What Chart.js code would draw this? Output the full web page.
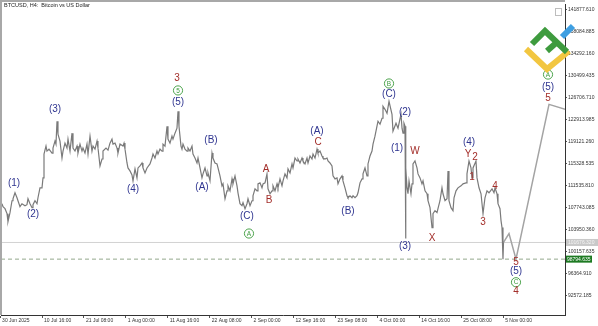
<!DOCTYPE html>
<html>
<head>
<meta charset="utf-8">
<script src="https://cdn.jsdelivr.net/npm/chart.js@4.4.1/dist/chart.umd.min.js"></script>
<style>
  html, body { margin: 0; padding: 0; background: #fff; overflow: hidden; }
  canvas { display: block; }
</style>
</head>
<body>
<canvas id="btc-chart" width="598" height="326"></canvas>
<script>
// BTCUSD H4 closes, [days since 30 Jun 2025 00:00, price]
const h4Closes = [
  [0.48,108378],[0.74,107862],[1.25,107519],[1.76,106660],[2.01,105285],[2.52,106831],[3.03,108893],[3.28,109237],[3.79,110267],[4.30,109408],
  [4.55,108893],[5.06,107862],[5.57,108378],[6.34,108034],[6.84,108206],[7.10,109237],[7.61,108378],[8.12,107690],[8.37,108206],[8.88,108893],
  [9.39,108378],[9.64,109408],[10.15,111127],[10.66,111127],[10.92,112845],[11.17,116968],[11.68,118342],[11.93,117483],[12.44,117827],[13.21,117139],
  [13.46,117998],[13.97,119201],[14.22,118686],[14.48,122637],[14.73,120404],[15.24,119201],[15.75,116280],[16.01,117483],[16.51,118857],[17.02,117998],
  [17.28,119545],[17.79,117483],[18.30,120575],[18.55,117998],[19.06,117483],[19.57,118342],[19.82,117139],[20.33,118686],[20.84,117483],[21.09,117998],
  [21.60,117139],[22.11,118686],[22.37,116968],[22.88,120060],[23.38,117483],[23.64,118342],[24.15,117827],[24.66,119201],[24.91,117998],[25.42,114906],
  [25.93,116109],[26.18,117483],[26.95,117998],[27.46,117655],[27.96,118857],[28.47,119545],[28.73,118686],[29.24,118857],[29.75,117998],[30.00,117139],
  [30.51,118686],[31.27,118342],[31.53,118857],[31.78,117827],[32.29,115421],[32.54,114562],[33.05,114047],[33.56,113360],[33.82,112329],[34.33,114391],
  [34.83,112845],[35.09,114562],[35.60,114906],[36.11,115421],[36.36,114562],[36.87,113703],[37.38,114562],[38.14,115250],[38.65,116280],[38.91,116968],
  [39.41,116280],[39.92,117483],[40.18,116968],[40.69,117827],[41.20,117483],[41.45,118686],[41.96,118342],[42.47,121778],[42.72,119545],[43.23,118857],
  [43.74,120060],[43.99,119545],[44.50,120575],[45.01,121435],[45.27,124355],[45.52,121778],[46.03,118342],[46.28,117827],[46.54,118686],[47.05,117827],
  [47.56,117483],[47.81,117998],[48.32,117483],[48.83,118342],[49.08,116968],[49.59,116280],[50.10,115421],[50.36,116280],[50.87,114562],[51.37,112845],
  [51.63,113532],[52.14,114562],[52.65,113189],[52.90,113703],[53.41,112329],[53.92,117139],[54.17,116280],[54.68,115421],[55.19,115250],[55.45,114562],
  [55.95,113189],[56.46,111470],[56.72,111814],[57.23,109237],[57.74,110611],[57.99,111470],[58.50,110611],[59.01,112673],[59.26,111814],[59.77,113189],
  [60.28,111470],[60.53,110267],[61.04,108378],[61.55,108034],[61.81,108549],[62.32,107519],[62.82,108378],[63.08,109237],[63.59,108034],[64.10,108893],
  [64.35,109752],[64.86,110955],[65.37,110611],[65.62,111814],[66.13,111985],[66.64,111127],[66.90,111814],[67.41,111985],[67.91,113532],[68.17,110955],
  [68.68,110096],[69.19,110611],[69.44,111470],[69.95,110611],[70.46,111814],[70.71,111127],[71.22,112673],[71.73,111470],[71.99,112329],[72.49,113532],
  [73.00,112845],[73.26,114391],[73.77,113703],[74.28,115250],[74.53,114562],[75.04,116280],[75.55,115765],[75.80,116109],[76.31,115421],[76.82,116280],
  [77.07,115765],[77.58,115250],[78.09,116280],[78.35,115421],[78.85,116624],[79.36,116109],[79.62,116968],[80.13,116280],[80.64,117827],[80.89,117139],
  [81.40,117483],[81.91,116624],[82.16,116280],[82.67,116109],[83.18,116280],[83.44,115765],[83.94,115421],[84.45,114906],[84.71,113189],[85.22,112673],
  [85.73,112845],[85.98,111814],[86.49,112673],[87.00,113189],[87.25,112329],[87.76,111127],[88.27,109752],[88.52,109408],[89.03,109752],[89.54,109408],
  [89.80,109752],[90.31,109408],[90.81,109752],[91.07,110267],[91.58,111985],[92.09,112673],[92.34,113532],[92.85,114562],[93.36,113189],[93.61,115250],
  [94.12,116624],[94.63,117483],[94.89,118686],[95.39,120060],[95.90,121778],[96.16,122637],[96.67,122122],[97.18,123153],[97.43,125214],[97.94,124699],
  [98.45,124011],[98.96,126073],[99.72,123840],[99.97,120919],[100.74,122293],[101.25,121435],[102.01,123840],[102.27,121435],[102.52,120575],[102.77,122293],
  [103.03,121778],[103.16,102364],[103.28,114562],[103.54,111127],[103.79,110096],[104.05,112329],[104.55,110096],[104.81,111814],[105.06,115250],[105.57,115765],
  [106.08,114562],[106.34,113532],[106.85,112845],[107.35,111814],[107.61,112329],[108.12,110611],[108.63,110096],[108.88,108893],[109.39,107690],[109.90,104254],
  [110.15,106660],[110.66,107175],[111.17,106831],[111.42,107519],[111.93,108893],[112.44,111127],[112.70,110096],[113.21,108893],[113.72,109237],[113.97,114047],
  [114.22,108893],[114.73,107690],[115.24,107175],[115.50,109408],[116.01,110611],[116.51,111127],[117.28,111470],[117.79,111814],[118.55,111985],[118.80,113532],
  [119.31,115765],[119.82,114562],[120.08,112845],[120.33,114562],[121.09,115765],[121.35,112845],[121.86,111127],[122.37,110096],[122.88,106660],[123.38,109408],
  [123.89,110611],[124.40,110267],[125.17,110955],[125.67,110267],[125.93,111127],[126.44,110096],[126.69,108378],[127.20,107519],[127.46,105457],[127.71,104254],
  [127.96,98795],[128.09,101676]
];

// projected path drawn after the last close
const forecastPath = [[128.09,101676],[129.49,103222],[131.27,98795],[139.67,125558],[147.81,123840]];

const bidPrice = 101676.32;
const lowLevel = 98794.635;

const priceTicks = [92572.185, 96364.910, 100157.635, 103950.360, 107743.085, 111535.810, 115328.535,
                    119121.260, 122913.985, 126706.710, 130499.435, 134292.160, 138084.885, 141877.610];
const dateTickDays = [0, 10.667, 21.333, 32, 42.667, 53.333, 64, 74.667, 85.333, 96, 106.667, 117.333, 128];
const dateTickLabels = ['30 Jun 2025', '10 Jul 16:00', '21 Jul 08:00', '1 Aug 00:00', '11 Aug 16:00', '22 Aug 08:00',
                        '2 Sep 00:00', '12 Sep 16:00', '23 Sep 08:00', '4 Oct 00:00', '14 Oct 16:00', '25 Oct 08:00', '5 Nov 00:00'];

// wave count marks: text, day, price, kind
const waveMarks = [
  ['(1)', 3.54, 111985, 'navy'], ['(2)', 8.37, 106488, 'navy'], ['(3)', 13.97, 124699, 'navy'],
  ['(4)', 33.82, 110955, 'navy'], ['(5)', 45.27, 125901, 'navy'], ['5', 45.27, 127963, 'circle'],
  ['3', 45.01, 130024, 'red'], ['(A)', 51.37, 111298, 'navy'], ['(B)', 53.67, 119373, 'navy'],
  ['(C)', 62.82, 106144, 'navy'], ['A', 63.33, 103224, 'circle'], ['A', 67.66, 114391, 'red'],
  ['B', 68.42, 108893, 'red'], ['(A)', 80.64, 120919, 'navy'], ['C', 80.89, 119029, 'red'],
  ['(B)', 88.52, 107003, 'navy'], ['B', 98.96, 129165, 'circle'], ['(C)', 98.96, 127276, 'navy'],
  ['(2)', 103.03, 124183, 'navy'], ['(1)', 100.99, 117998, 'navy'], ['W', 105.57, 117483, 'red'],
  ['(3)', 103.03, 100990, 'navy'], ['X', 109.90, 102364, 'red'], ['(4)', 119.31, 119029, 'navy'],
  ['Y', 119.06, 116968, 'red'], ['2', 120.84, 116452, 'red'], ['1', 120.08, 113016, 'red'],
  ['3', 122.88, 105113, 'red'], ['4', 125.93, 111470, 'red'], ['5', 131.27, 98241, 'red'],
  ['(5)', 131.27, 96695, 'navy'], ['C', 131.27, 94805, 'circle'], ['4', 131.27, 93259, 'red'],
  ['A', 139.42, 130712, 'circle'], ['(5)', 139.42, 128478, 'navy'], ['5', 139.42, 126588, 'red']
];

const X_MIN = 0.23, X_MAX = 143.74;
const Y_MIN = 89136, Y_MAX = 142909;

const FONT = '"Liberation Sans", Arial, sans-serif';
const markColors = { navy: '#2f3590', red: '#a32e2a', circle: '#3a9a3a' };

const toXY = arr => arr.map(([d, p]) => ({ x: d, y: p }));

const framePlugin = {
  id: 'frame',
  beforeDraw(chart) {
    const c = chart.ctx;
    c.save();
    c.fillStyle = '#fff';
    c.fillRect(0, 0, chart.width, chart.height);
    c.restore();
  },
  afterDraw(chart) {
    const c = chart.ctx, a = chart.chartArea;
    c.save();
    c.strokeStyle = '#a8a8a8';
    c.lineWidth = 2;
    c.beginPath();
    c.moveTo(1, a.bottom); c.lineTo(1, 1); c.lineTo(a.right, 1);
    c.stroke();
    c.fillStyle = '#222';
    c.font = '5.5px ' + FONT;
    c.textBaseline = 'middle';
    c.fillText('BTCUSD, H4:  Bitcoin vs US Dollar', 4, 5.5);
    // little corner icon
    c.strokeStyle = '#bdbdbd';
    c.lineWidth = 1;
    c.strokeRect(555.5, 8.5, 6, 7);
    c.restore();
  }
};

const wavePlugin = {
  id: 'waves',
  afterDatasetsDraw(chart) {
    const c = chart.ctx, xs = chart.scales.x, ys = chart.scales.y;
    c.save();
    c.textAlign = 'center';
    c.textBaseline = 'middle';
    waveMarks.forEach(([t, d, p, kind]) => {
      const x = xs.getPixelForValue(d), y = ys.getPixelForValue(p);
      c.fillStyle = markColors[kind];
      if (kind === 'circle') {
        c.strokeStyle = markColors.circle;
        c.lineWidth = 0.9;
        c.beginPath();
        c.arc(x, y, 4.6, 0, Math.PI * 2);
        c.stroke();
        c.font = '6.5px ' + FONT;
        c.fillText(t, x, y + 0.3);
      } else {
        c.font = '10px ' + FONT;
        c.fillText(t, x, y);
      }
    });
    c.restore();
  }
};

const priceBoxPlugin = {
  id: 'priceBoxes',
  afterDraw(chart) {
    const c = chart.ctx, ys = chart.scales.y, a = chart.chartArea;
    c.save();
    c.font = '5px ' + FONT;
    c.textBaseline = 'middle';
    let y = ys.getPixelForValue(bidPrice);
    c.fillStyle = '#c9c9c9';
    c.fillRect(a.right + 1, y - 3.5, 33, 7);
    c.fillStyle = '#f4f4f4';
    c.fillText(bidPrice.toFixed(3), a.right + 3, y);
    y = ys.getPixelForValue(lowLevel);
    c.fillStyle = '#1d7a22';
    c.fillRect(a.right + 1, y - 3.5, 26, 7);
    c.fillStyle = '#fff';
    c.fillText(lowLevel.toFixed(3), a.right + 2, y);
    c.restore();
  }
};

const logoPlugin = {
  id: 'logo',
  afterDraw(chart) {
    const c = chart.ctx;
    c.save();
    c.lineCap = 'butt';
    c.lineJoin = 'miter';
    c.lineWidth = 6;
    c.strokeStyle = '#f2c640';
    c.beginPath();
    c.moveTo(526, 49); c.lineTo(547, 69); c.lineTo(569, 51);
    c.stroke();
    c.strokeStyle = '#3e9b3e';
    c.beginPath();
    c.moveTo(532, 44); c.lineTo(545, 31); c.lineTo(567, 52);
    c.stroke();
    c.beginPath();
    c.moveTo(547, 51); c.lineTo(556, 43);
    c.stroke();
    c.strokeStyle = '#3e9fe2';
    c.beginPath();
    c.moveTo(562, 37); c.lineTo(573, 26);
    c.stroke();
    c.restore();
  }
};

new Chart(document.getElementById('btc-chart'), {
  type: 'line',
  data: {
    datasets: [
      { data: toXY(h4Closes), borderColor: '#7a7a7a', borderWidth: 1.2, pointRadius: 0, tension: 0, order: 0 },
      { data: toXY(forecastPath), borderColor: '#a3a3a3', borderWidth: 1.5, pointRadius: 0, tension: 0, order: 1 },
      { data: [{ x: X_MIN, y: bidPrice }, { x: X_MAX, y: bidPrice }], borderColor: '#d2d2d2', borderWidth: 1, pointRadius: 0, order: 2 },
      { data: [{ x: X_MIN, y: lowLevel }, { x: X_MAX, y: lowLevel }], borderColor: '#93a88c', borderWidth: 1, borderDash: [4, 3], pointRadius: 0, order: 2 }
    ]
  },
  options: {
    responsive: false,
    animation: false,
    devicePixelRatio: 1,
    layout: { padding: { left: 1, top: 2, right: 0, bottom: 0 } },
    plugins: { legend: { display: false }, tooltip: { enabled: false } },
    scales: {
      x: {
        type: 'linear', position: 'bottom', min: X_MIN, max: X_MAX,
        afterBuildTicks: s => { s.ticks = dateTickDays.map(v => ({ value: v })); },
        afterFit: s => { s.height = 11; },
        ticks: {
          autoSkip: false, maxRotation: 0, align: 'start', labelOffset: 2, padding: 0,
          color: '#333', font: { size: 5, family: FONT },
          callback: (v, i) => dateTickLabels[i]
        },
        grid: { display: true, drawOnChartArea: false, drawTicks: true, tickLength: 3, color: '#555' },
        border: { display: true, color: '#333', width: 1 }
      },
      y: {
        type: 'linear', position: 'right', min: Y_MIN, max: Y_MAX,
        afterBuildTicks: s => { s.ticks = priceTicks.map(v => ({ value: v })); },
        afterFit: s => { s.width = 33; },
        ticks: {
          autoSkip: false, padding: 1, color: '#333', font: { size: 5, family: FONT },
          callback: v => v.toFixed(3)
        },
        grid: { display: true, drawOnChartArea: false, drawTicks: true, tickLength: 2, color: '#555' },
        border: { display: true, color: '#333', width: 1 }
      }
    }
  },
  plugins: [framePlugin, wavePlugin, priceBoxPlugin, logoPlugin]
});
</script>
</body>
</html>
